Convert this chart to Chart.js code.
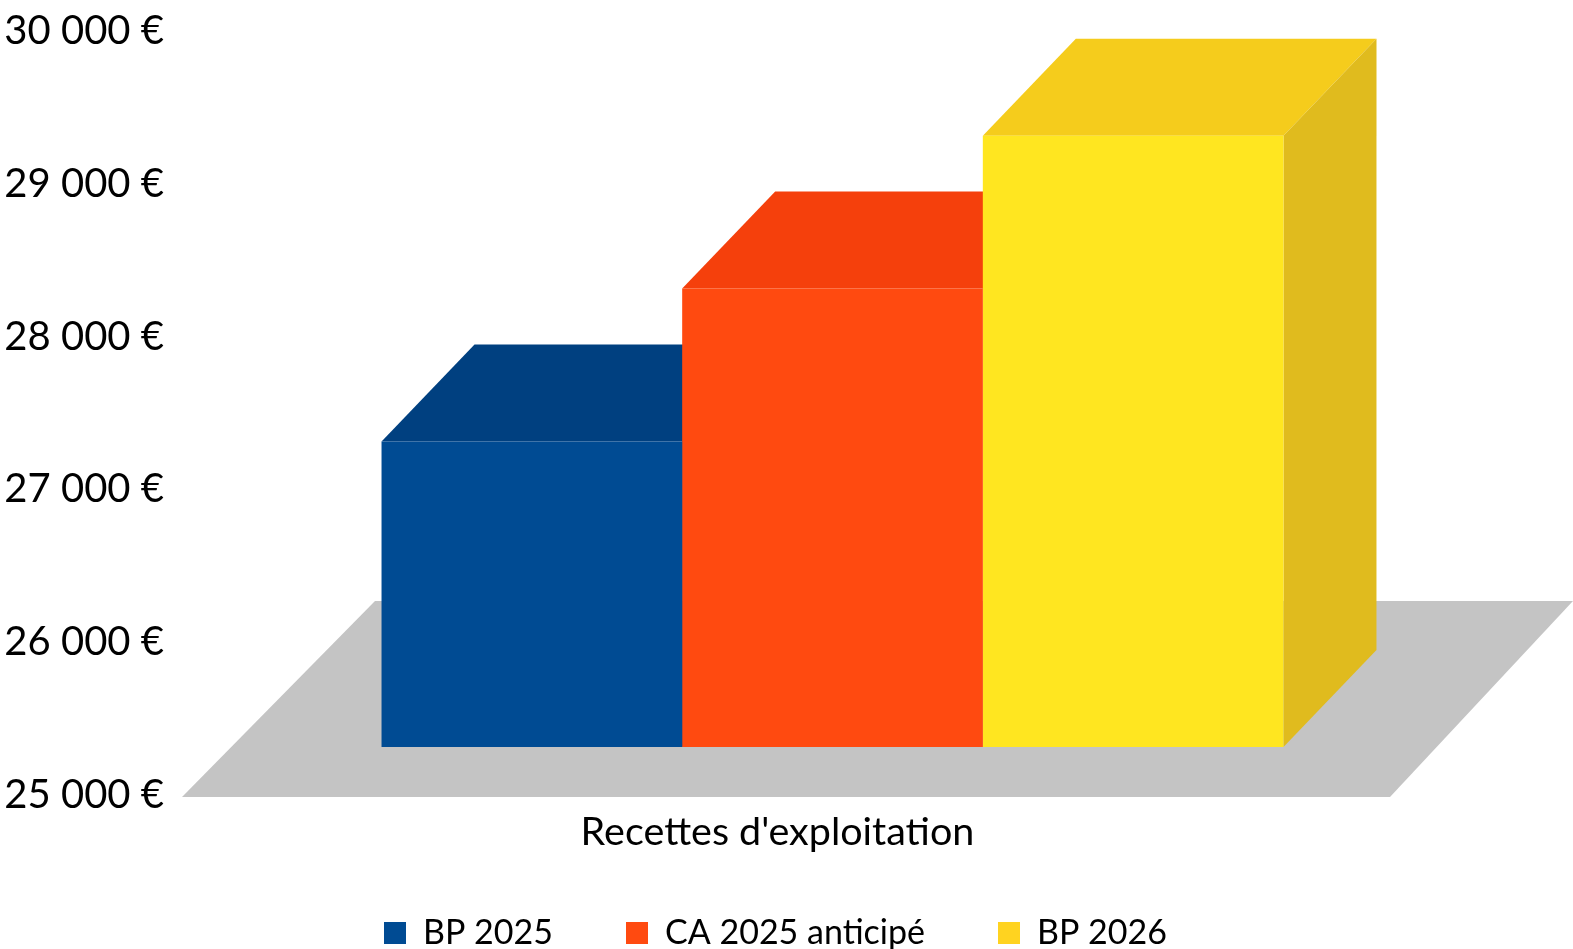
<!DOCTYPE html>
<html lang="fr">
<head>
    <meta charset="UTF-8">
    <title>Recettes d'exploitation</title>
    <style>
        html, body { margin: 0; padding: 0; background: #fff; overflow: hidden; }
        #chart { display: block; }
    </style>
</head>
<body>
    <canvas id="chart" width="1573" height="949"></canvas>

    <script src="https://cdn.jsdelivr.net/npm/chart.js@4/dist/chart.umd.min.js"></script>
    <script>
        const categories = ["Recettes d'exploitation"];
        const seriesNames = ['BP 2025', 'CA 2025 anticipé', 'BP 2026'];
        const bp2025 = [27000];
        const ca2025 = [28000];
        const bp2026 = [29000];
        const yMin = 25000, yMax = 30000, yStep = 1000;
        const faceColors = ['#004b93', '#ff4a10', '#ffe620'];
        const topColors = ['#004080', '#f5400c', '#f5cc1c'];
        const sideColors = ['#003a75', '#d93f0e', '#e0bb1e'];
        const legendColors = ['#004b93', '#ff4a10', '#ffd320'];

        // the front of the bars sits up and to the right of the axis plane
        const shiftX = 55, shiftY = -48;
        const depthX = 93, depthY = -97;
        const floorColor = '#c4c4c4';

        const font = "'Lato', sans-serif";

        // floor and the 3d faces, placed from the bars chart.js has laid out
        const fake3d = {
            id: 'fake3d',
            afterLayout(chart) {
                // legend padding sets the gap between items, but it also pushes the row down
                chart.legend.top -= 55;
            },
            beforeDatasetsDraw(chart) {
                const ctx = chart.ctx, area = chart.chartArea;
                ctx.save();
                ctx.fillStyle = floorColor;
                ctx.beginPath();
                ctx.moveTo(area.left, area.bottom + 2);
                ctx.lineTo(area.left + 193, area.bottom - 194);
                ctx.lineTo(1573, area.bottom - 194);
                ctx.lineTo(area.right + 17, area.bottom + 2);
                ctx.closePath();
                ctx.fill();
                ctx.restore();

                ctx.save();
                ctx.translate(shiftX, shiftY);
                chart.data.datasets.forEach((ds, i) => {
                    const bar = chart.getDatasetMeta(i).data[0];
                    const l = bar.x - bar.width / 2, r = bar.x + bar.width / 2;
                    ctx.fillStyle = topColors[i];
                    ctx.beginPath();
                    ctx.moveTo(l, bar.y);
                    ctx.lineTo(l + depthX, bar.y + depthY);
                    ctx.lineTo(r + depthX, bar.y + depthY);
                    ctx.lineTo(r, bar.y);
                    ctx.closePath();
                    ctx.fill();
                    ctx.fillStyle = sideColors[i];
                    ctx.beginPath();
                    ctx.moveTo(r, bar.y);
                    ctx.lineTo(r + depthX, bar.y + depthY);
                    ctx.lineTo(r + depthX, bar.base + depthY);
                    ctx.lineTo(r, bar.base);
                    ctx.closePath();
                    ctx.fill();
                });
                ctx.restore();

                ctx.save();
                ctx.translate(shiftX, shiftY);
            },
            afterDatasetsDraw(chart) {
                chart.ctx.restore();
            }
        };

        new Chart(document.getElementById('chart'), {
            type: 'bar',
            plugins: [fake3d],
            data: {
                labels: categories,
                datasets: [
                    { label: seriesNames[0], data: bp2025, backgroundColor: faceColors[0], base: yMin, clip: false },
                    { label: seriesNames[1], data: ca2025, backgroundColor: faceColors[1], base: yMin, clip: false },
                    { label: seriesNames[2], data: bp2026, backgroundColor: faceColors[2], base: yMin, clip: false }
                ]
            },
            options: {
                responsive: false,
                animation: false,
                layout: { padding: { top: 31, right: 22, bottom: 0, left: 0 } },
                datasets: { bar: { categoryPercentage: 0.7573, barPercentage: 1 } },
                plugins: {
                    tooltip: { enabled: false },
                    legend: {
                        position: 'bottom',
                        maxHeight: 51,
                        labels: {
                            color: '#000',
                            font: { family: font, size: 34 },
                            boxWidth: 22,
                            boxHeight: 22,
                            padding: 73,
                            generateLabels(chart) {
                                return seriesNames.map((name, i) => ({
                                    text: name,
                                    fillStyle: legendColors[i],
                                    strokeStyle: legendColors[i],
                                    lineWidth: 0,
                                    datasetIndex: i
                                }));
                            }
                        }
                    }
                },
                scales: {
                    x: {
                        grid: { display: false, drawTicks: false },
                        border: { display: false },
                        ticks: { color: '#000', font: { family: font, size: 39.5 }, padding: 14 },
                        afterFit(axis) { axis.height = 103; axis.paddingLeft = 0; axis.paddingRight = 0; }
                    },
                    y: {
                        min: yMin,
                        max: yMax,
                        grid: { display: false, drawTicks: false },
                        border: { display: false },
                        ticks: {
                            stepSize: yStep,
                            color: '#000',
                            font: { family: font, size: 40 },
                            padding: 18,
                            callback: v => String(v).replace(/(\d{2})(\d{3})/, '$1 $2') + ' €'
                        },
                        afterFit(axis) { axis.width = 182; axis.paddingTop = 0; axis.paddingBottom = 0; }
                    },
                    spare: {
                        position: 'right',
                        display: true,
                        grid: { display: false, drawTicks: false },
                        border: { display: false },
                        ticks: { display: false },
                        afterFit(axis) { axis.width = 178; axis.paddingTop = 0; axis.paddingBottom = 0; }
                    }
                }
            }
        });
    </script>
</body>
</html>
